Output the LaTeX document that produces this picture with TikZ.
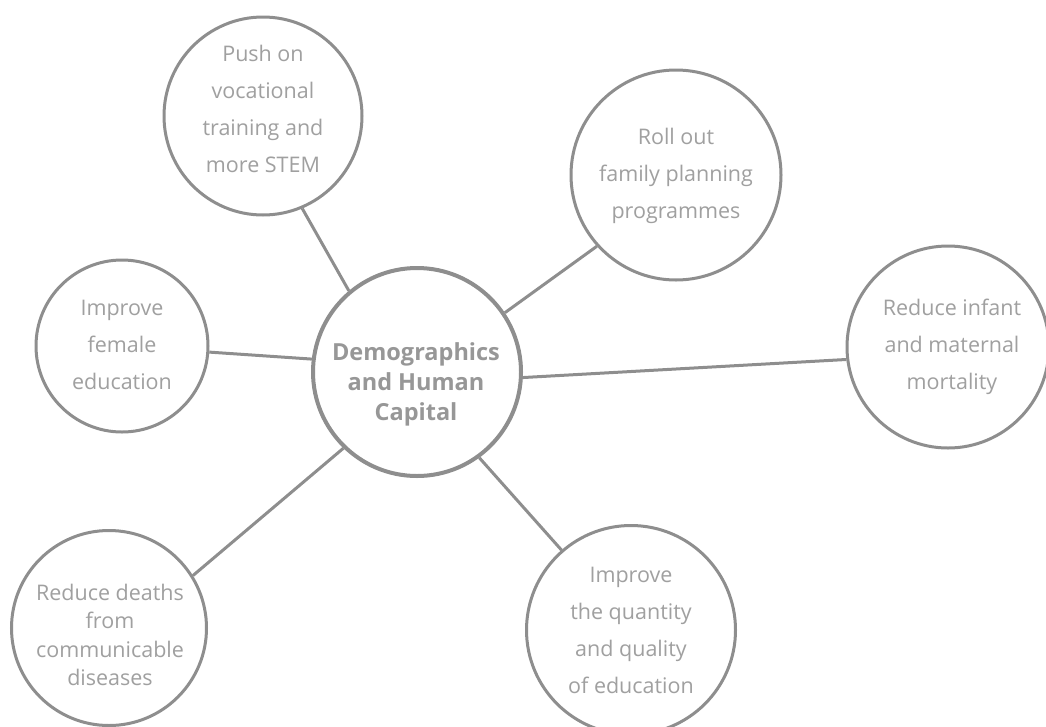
\documentclass[tikz,border=0pt]{standalone}
\usepackage{fontspec}
\setmainfont{Open Sans}
\begin{document}
\begin{tikzpicture}[x=1pt,y=-1pt,
  bubble/.style={circle,draw=ringgray,line width=3pt,fill=white,inner sep=0pt},
  hubring/.style={bubble,line width=4pt},
  txt/.style={align=center,text=txtgray,font=\fontsize{21.5}{37}\selectfont,inner sep=0pt},
  hubtxt/.style={align=center,text=hubtxtgray,font=\fontsize{23.5}{30}\selectfont\bfseries,inner sep=0pt},
  link/.style={draw=ringgray,line width=3pt}]
\definecolor{ringgray}{HTML}{8E8E8E}
\definecolor{txtgray}{HTML}{A0A0A0}
\definecolor{hubtxtgray}{HTML}{979797}
\useasboundingbox (0,0) rectangle (1046,726);

% circles
\node[hubring,minimum size=208pt] (hub) at (417,372) {};
\node[bubble,minimum size=198pt] (push) at (263,116) {};
\node[bubble,minimum size=210pt] (roll) at (676,175) {};
\node[bubble,minimum size=202pt] (inf) at (948,347) {};
\node[bubble,minimum size=172pt] (fem) at (122,346) {};
\node[bubble,minimum size=195pt] (death) at (109,628) {};
\node[bubble,minimum size=209pt] (qty) at (631,630) {};

% connectors
\draw[link] (push.-67.5) -- (hub.130.7);
\draw[link] (fem.-4) -- (hub.173.5);
\draw[link] (roll.222.7) -- (hub.34.8);
\draw[link] (inf.187.3) -- (hub.-3.3);
\draw[link] (death.32.2) -- (hub.226);
\draw[link] (qty.131.7) -- (hub.-54.3);

% labels
\node[hubtxt] (hubl) at (416,384) {Demographics\\and Human\\Capital};
\node[txt] (pushl) at (263,109) {Push on\\vocational\\training and\\more STEM};
\node[txt] (rolll) at (676,176) {Roll out\\family planning\\programmes};
\node[txt] (infl) at (952,347) {Reduce infant\\and maternal\\mortality};
\node[txt] (feml) at (122,345) {Improve\\female\\education};
\node[txt,font=\fontsize{21.5}{28.5}\selectfont] (deathl) at (110,635) {Reduce deaths\\from\\communicable\\diseases};
\node[txt] (qtyl) at (631,630) {Improve\\the quantity\\and quality\\of education};
\end{tikzpicture}
\end{document}
